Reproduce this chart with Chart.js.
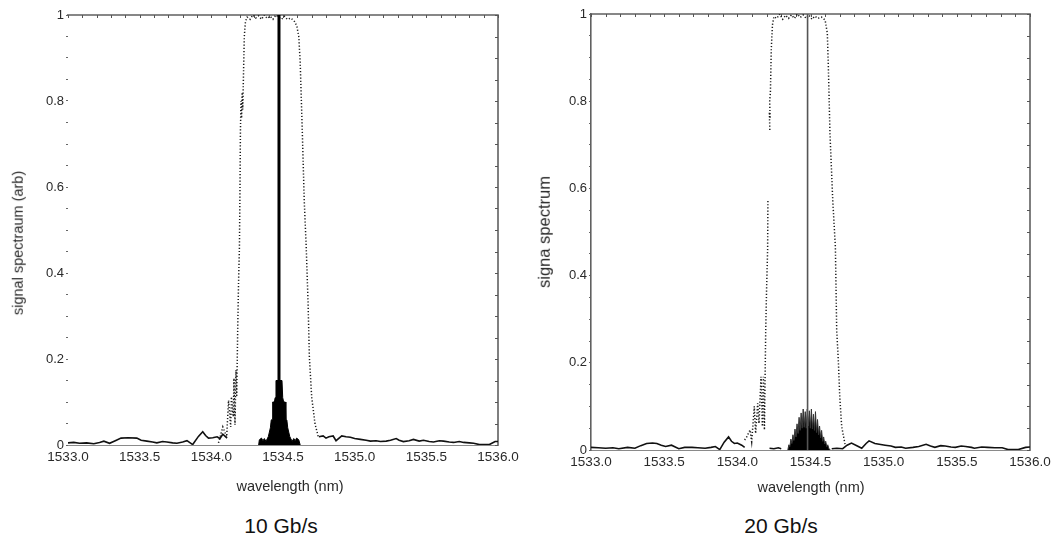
<!DOCTYPE html>
<html>
<head>
<meta charset="utf-8">
<title>Signal spectrum through the optical filter</title>
<script src="https://cdn.jsdelivr.net/npm/chart.js@4.4.1/dist/chart.umd.min.js"></script>
<style>
  html, body { margin: 0; padding: 0; background: #ffffff; }
  body { width: 1057px; height: 541px; position: relative; overflow: hidden;
         font-family: "Liberation Sans", Arial, sans-serif; }
  .panel { position: absolute; top: 0; height: 505px; }
  #p10 { left: 0; width: 528px; }
  #p20 { left: 528px; width: 529px; }
  .caption { position: absolute; top: 514px; font-size: 21px; line-height: 24px;
             color: #111; transform: translateX(-50%); white-space: nowrap; }
  .xtitle, .ytitle { position: absolute; color: #2a2a2a; white-space: nowrap; line-height: 1; }
  .xtitle { font-size: 14.5px; transform: translate(-50%, -50%); }
  .ytitle { transform: translate(-50%, -50%) rotate(-90deg); }
</style>
</head>
<body>
<div class="panel" id="p10"><canvas id="c10" width="528" height="505"></canvas></div>
<div class="panel" id="p20"><canvas id="c20" width="529" height="505"></canvas></div>
<div class="ytitle" style="left:17.5px; top:243px; font-size:14.5px">signal spectraum (arb)</div>
<div class="ytitle" style="left:544px; top:232px; font-size:16.5px">signa spectrum</div>
<div class="xtitle" style="left:290px; top:486px">wavelength (nm)</div>
<div class="xtitle" style="left:811px; top:487px">wavelength (nm)</div>
<div class="caption" style="left:281px">10 Gb/s</div>
<div class="caption" style="left:781px">20 Gb/s</div>

<script>
// ---------- 10 Gb/s panel ----------
// filter transmission (dotted)
const band10Wl = [1534.05, 1534.08, 1534.107, 1534.12, 1534.135, 1534.14, 1534.153, 1534.158, 1534.165, 1534.172,
  1534.177, 1534.184, 1534.19, 1534.196, 1534.20, 1534.203, 1534.207, 1534.211, 1534.215, 1534.219,
  1534.223, 1534.23, 1534.238, 1534.25, 1534.27, 1534.29, 1534.31, 1534.33, 1534.35, 1534.37,
  1534.39, 1534.41, 1534.43, 1534.45, 1534.47, 1534.49, 1534.51, 1534.53, 1534.555, 1534.58,
  1534.596, 1534.61, 1534.62, 1534.635, 1534.648, 1534.662, 1534.675, 1534.684, 1534.70, 1534.723, 1534.746];
const band10Val = [0.005, 0.042, 0.019, 0.104, 0.042, 0.112, 0.066, 0.155, 0.047, 0.174,
  0.112, 0.27, 0.38, 0.46, 0.60, 0.73, 0.80, 0.76, 0.82, 0.78,
  0.84, 0.95, 0.985, 0.995, 0.99, 1.0, 0.993, 0.998, 0.99, 1.0,
  0.992, 0.997, 0.99, 1.0, 0.995, 0.99, 0.997, 0.99, 0.993, 0.985,
  0.975, 0.95, 0.89, 0.725, 0.57, 0.46, 0.33, 0.205, 0.112, 0.05, 0.019];

// background noise (solid), two segments either side of the passband
const noise10Wl = [1533.00, 1533.04, 1533.08, 1533.13, 1533.18, 1533.22, 1533.25, 1533.29, 1533.33, 1533.37,
  1533.42, 1533.48, 1533.51, 1533.55, 1533.59, 1533.62, 1533.66, 1533.69, 1533.73, 1533.76,
  1533.80, 1533.83, 1533.87, 1533.91, 1533.94, 1533.96, 1533.98, 1534.01, 1534.04, 1534.06,
  1534.08, 1534.11, 1534.40,
  1534.75, 1534.78, 1534.80, 1534.82, 1534.85, 1534.87, 1534.91, 1534.94, 1534.97, 1535.00,
  1535.04, 1535.08, 1535.11, 1535.15, 1535.18, 1535.22, 1535.25, 1535.29, 1535.31, 1535.34,
  1535.38, 1535.41, 1535.45, 1535.48, 1535.52, 1535.55, 1535.59, 1535.62, 1535.66, 1535.69,
  1535.73, 1535.76, 1535.80, 1535.83, 1535.87, 1535.94, 1535.98, 1536.00];
const noise10Val = [0.005, 0.006, 0.004, 0.005, 0.003, 0.006, 0.009, 0.004, 0.010, 0.016,
  0.017, 0.016, 0.011, 0.009, 0.007, 0.005, 0.008, 0.007, 0.005, 0.004,
  0.007, 0.010, 0.001, 0.020, 0.031, 0.022, 0.016, 0.017, 0.019, 0.015,
  0.025, 0.016, null,
  0.019, 0.021, 0.016, 0.019, 0.021, 0.010, 0.021, 0.019, 0.018, 0.015,
  0.013, 0.011, 0.009, 0.010, 0.008, 0.009, 0.011, 0.015, 0.011, 0.008,
  0.010, 0.013, 0.009, 0.011, 0.008, 0.007, 0.010, 0.009, 0.007, 0.006,
  0.008, 0.006, 0.005, 0.004, 0.001, 0.001, 0.008, 0.008];

// modulated signal sidebands (filled)
const signal10Wl = [1534.33, 1534.335, 1534.35, 1534.36, 1534.37, 1534.38, 1534.39, 1534.398, 1534.405, 1534.412,
  1534.418, 1534.425, 1534.428, 1534.44, 1534.445, 1534.451, 1534.493, 1534.498, 1534.505, 1534.516,
  1534.52, 1534.527, 1534.533, 1534.54, 1534.547, 1534.555, 1534.565, 1534.575, 1534.585, 1534.595,
  1534.61, 1534.62];
const signal10Val = [0, 0.012, 0.016, 0.010, 0.015, 0.009, 0.014, 0.020, 0.030, 0.040,
  0.058, 0.060, 0.100, 0.100, 0.110, 0.150, 0.150, 0.110, 0.100, 0.100,
  0.060, 0.058, 0.040, 0.030, 0.020, 0.014, 0.009, 0.015, 0.010, 0.016,
  0.012, 0];

// carrier line
const carrier10Wl = [1534.472, 1534.472];
const carrier10Val = [0, 1.0];

// ---------- 20 Gb/s panel ----------
const band20Wl = [1534.05, 1534.064, 1534.087, 1534.098, 1534.116, 1534.125, 1534.139, 1534.148, 1534.162, 1534.171,
  1534.178, 1534.185, 1534.194, 1534.20, 1534.207, 1534.209, 1534.215,
  1534.222, 1534.219, 1534.224, 1534.221, 1534.226, 1534.232, 1534.24, 1534.25, 1534.27,
  1534.29, 1534.31, 1534.33, 1534.35, 1534.37, 1534.39, 1534.41, 1534.43, 1534.45, 1534.47,
  1534.49, 1534.51, 1534.53, 1534.55, 1534.575, 1534.60, 1534.615, 1534.622, 1534.633, 1534.652,
  1534.67, 1534.679, 1534.69, 1534.70, 1534.713, 1534.736];
const band20Val = [0.023, 0.030, 0.046, 0.019, 0.100, 0.038, 0.107, 0.061, 0.168, 0.054,
  0.168, 0.046, 0.275, 0.37, 0.46, 0.573, null,
  0.734, 0.775, 0.76, 0.80, 0.82, 0.92, 0.975, 0.994, 0.99,
  1.0, 0.988, 0.997, 0.99, 0.998, 0.99, 1.0, 0.992, 0.998, 0.99,
  0.997, 0.988, 0.995, 0.99, 0.993, 0.986, 0.956, 0.879, 0.726, 0.573,
  0.466, 0.275, 0.206, 0.122, 0.054, 0.013];

const noise20Wl = [1533.00, 1533.05, 1533.10, 1533.15, 1533.19, 1533.25, 1533.30, 1533.34, 1533.38, 1533.42,
  1533.45, 1533.48, 1533.51, 1533.55, 1533.60, 1533.64, 1533.69, 1533.73, 1533.78, 1533.82,
  1533.85, 1533.88, 1533.91, 1533.94, 1533.96, 1533.98, 1534.00, 1534.03, 1534.05, 1534.13,
  1534.22, 1534.25, 1534.28, 1534.30, 1534.47,
  1534.645, 1534.68, 1534.72, 1534.75, 1534.78, 1534.82, 1534.85, 1534.88, 1534.90, 1534.94,
  1535.01, 1535.05, 1535.08, 1535.12, 1535.15, 1535.20, 1535.24, 1535.29, 1535.32, 1535.35,
  1535.39, 1535.42, 1535.46, 1535.49, 1535.53, 1535.56, 1535.60, 1535.62, 1535.67, 1535.71,
  1535.76, 1535.81, 1535.85, 1535.92, 1535.97, 1536.00];
const noise20Val = [0.006, 0.005, 0.004, 0.005, 0.003, 0.006, 0.004, 0.010, 0.015, 0.016,
  0.015, 0.011, 0.008, 0.011, 0.003, 0.006, 0.006, 0.005, 0.004, 0.006,
  0.008, 0.001, 0.018, 0.030, 0.020, 0.015, 0.016, 0.011, 0.006, null,
  0.004, 0.003, 0.005, 0.003, null,
  0.003, 0.004, 0.003, 0.011, 0.016, 0.009, 0.004, 0.015, 0.021, 0.015,
  0.011, 0.009, 0.006, 0.007, 0.004, 0.006, 0.008, 0.013, 0.009, 0.006,
  0.010, 0.009, 0.007, 0.006, 0.009, 0.008, 0.006, 0.004, 0.007, 0.006,
  0.005, 0.005, 0.001, 0.001, 0.006, 0.007];

const signal20Wl = [1534.345, 1534.352, 1534.359, 1534.366, 1534.373, 1534.380, 1534.387, 1534.394, 1534.401, 1534.408,
  1534.415, 1534.422, 1534.429, 1534.436, 1534.443, 1534.450, 1534.457, 1534.464, 1534.471, 1534.478,
  1534.485, 1534.492, 1534.499, 1534.506, 1534.513, 1534.520, 1534.527, 1534.534, 1534.541, 1534.548,
  1534.555, 1534.562, 1534.569, 1534.576, 1534.583, 1534.590, 1534.597, 1534.604, 1534.611, 1534.618,
  1534.625, 1534.635];
const signal20Val = [0, 0.012, 0.008, 0.025, 0.015, 0.035, 0.022, 0.048, 0.030, 0.060,
  0.038, 0.075, 0.045, 0.085, 0.050, 0.094, 0.052, 0.088, 0.050, 0.094,
  0.055, 0.090, 0.050, 0.094, 0.048, 0.082, 0.045, 0.088, 0.040, 0.070,
  0.035, 0.055, 0.028, 0.045, 0.020, 0.030, 0.014, 0.020, 0.008, 0.012,
  0.004, 0];

const carrier20Wl = [1534.48, 1534.48];
const carrier20Val = [0, 1.0];

// ---------- shared axis settings ----------
const xMin = 1533.0, xMax = 1536.0;
const xLabelStep = 0.5, xMinorStep = 0.1;
const yLabelStep = 0.2, yMinorStep = 0.05;

const FONT = '"Liberation Sans", Arial, sans-serif';
const TEXT = '#2a2a2a';

const pts = (xs, ys) => xs.map((x, i) => ({ x, y: ys[i] }));
const onStep = (v, s) => Math.abs(v / s - Math.round(v / s)) < 1e-6;

// Plot frame: top and right edges with short inward ticks on every minor step
const framePlugin = {
  id: 'frame',
  beforeDatasetsDraw(chart) {
    const { ctx, chartArea: a, scales: { x, y } } = chart;
    ctx.save();
    ctx.strokeStyle = '#606060';
    ctx.lineWidth = 1.6;
    ctx.beginPath();
    ctx.moveTo(a.left - 1, a.top);
    ctx.lineTo(a.right, a.top);
    ctx.lineTo(a.right, a.bottom);
    ctx.stroke();
    ctx.lineWidth = 1;
    ctx.strokeStyle = '#555';
    ctx.beginPath();
    for (const t of x.ticks) {
      const px = Math.round(x.getPixelForValue(t.value)) + 0.5;
      ctx.moveTo(px, a.top);
      ctx.lineTo(px, a.top + 3);
    }
    for (const t of y.ticks) {
      const py = Math.round(y.getPixelForValue(t.value)) + 0.5;
      ctx.moveTo(a.right, py);
      ctx.lineTo(a.right - 3, py);
    }
    ctx.stroke();
    ctx.restore();
  }
};

function buildChart(canvasId, cfg) {
  return new Chart(document.getElementById(canvasId), {
    type: 'line',
    data: {
      datasets: [
        { data: pts(cfg.carrier[0], cfg.carrier[1]), borderColor: cfg.carrierColor,
          borderWidth: cfg.carrierWidth, pointRadius: 0, fill: false },
        { data: pts(cfg.signal[0], cfg.signal[1]), borderColor: cfg.signalLine,
          backgroundColor: '#000', borderWidth: 1, pointRadius: 0, fill: 'origin' },
        { data: pts(cfg.noise[0], cfg.noise[1]), borderColor: '#111',
          borderWidth: 1.6, pointRadius: 0, fill: false, spanGaps: false },
        { data: pts(cfg.band[0], cfg.band[1]), borderColor: '#1a1a1a',
          borderWidth: 1.5, borderDash: [1.2, 2], pointRadius: 0, fill: false, spanGaps: false }
      ]
    },
    options: {
      responsive: false,
      animation: false,
      events: [],
      layout: { padding: { left: 0, right: cfg.padRight, top: cfg.padTop, bottom: 0 } },
      plugins: { legend: { display: false }, tooltip: { enabled: false } },
      elements: { line: { tension: 0 } },
      scales: {
        x: {
          type: 'linear', min: xMin, max: xMax,
          afterFit(s) { s.height = cfg.xHeight; },
          ticks: {
            stepSize: xMinorStep, autoSkip: false, maxRotation: 0, padding: 4,
            color: TEXT, font: { family: FONT, size: 13.5 },
            callback: v => onStep(v, xLabelStep) ? v.toFixed(1) : ''
          },
          grid: { display: false, drawTicks: false },
          border: { display: true, color: '#8a8a8a', width: 1 },
          title: { display: false }
        },
        y: {
          type: 'linear', min: 0, max: 1,
          afterFit(s) { s.width = cfg.yWidth; },
          ticks: {
            stepSize: yMinorStep, autoSkip: false, padding: 2,
            color: TEXT, font: { family: FONT, size: 13 },
            callback: v => onStep(v, yLabelStep) ? String(+v.toFixed(1)) : ''
          },
          grid: { drawOnChartArea: false, drawTicks: true, tickLength: 2, color: '#666' },
          border: { display: cfg.leftBorder, color: '#606060', width: 1.6 },
          title: { display: false }
        }
      }
    },
    plugins: [framePlugin]
  });
}

buildChart('c10', {
  band: [band10Wl, band10Val], noise: [noise10Wl, noise10Val],
  signal: [signal10Wl, signal10Val], carrier: [carrier10Wl, carrier10Val],
  carrierColor: '#000', carrierWidth: 3, signalLine: '#000', leftBorder: false,
  padRight: 30, padTop: 15, xHeight: 60, yWidth: 68
});

buildChart('c20', {
  band: [band20Wl, band20Val], noise: [noise20Wl, noise20Val],
  signal: [signal20Wl, signal20Val], carrier: [carrier20Wl, carrier20Val],
  carrierColor: '#555', carrierWidth: 1.6, signalLine: '#333', leftBorder: true,
  padRight: 27, padTop: 14, xHeight: 55, yWidth: 63
});
</script>
</body>
</html>
